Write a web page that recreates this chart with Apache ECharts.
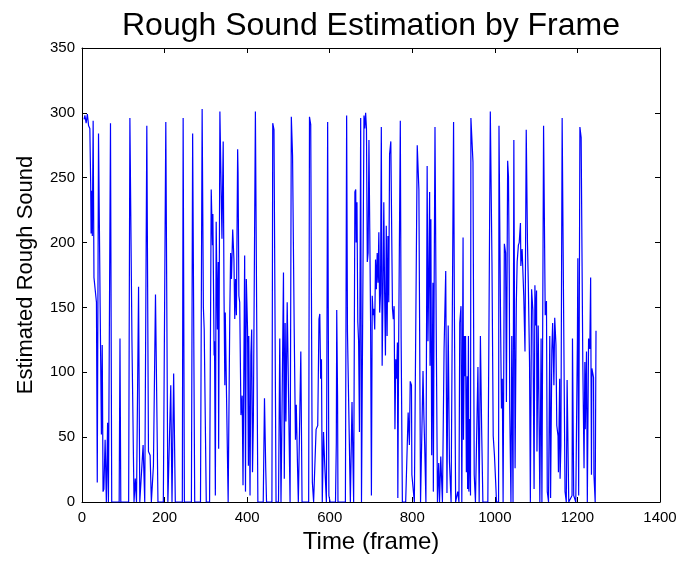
<!DOCTYPE html>
<html>
<head>
<meta charset="utf-8">
<script src="https://cdn.jsdelivr.net/npm/echarts@6/dist/echarts.min.js"></script>
<style>
html,body{margin:0;padding:0;background:#fff;}
#chart{width:681px;height:565px;}
</style>
</head>
<body>
<div id="chart"></div>
<script>
var titleText = 'Rough Sound Estimation by Frame';
var xLabel = 'Time (frame)';
var yLabel = 'Estimated Rough Sound';
var xTicks = [0, 200, 400, 600, 800, 1000, 1200, 1400];
var yTicks = [0, 50, 100, 150, 200, 250, 300, 350];

var frames = [
5,7,10,13,16,19,21,22,24,25,27,29,33,35,37,40,44,47,49,51,53,56,59,62,64,69,72,90,92,94,113,116,121,126,129,132,137,140,148,152,157,161,165,168,173,178,184,197,203,
208,215,218,222,226,243,245,248,265,268,273,287,291,294,296,301,309,313,316,317,320,321,323,325,328,330,331,334,336,339,342,344,346,347,354,358,360,362,365,368,370,372,374,377,378,380,382,385,388,390,393,394,396,398,401,403,404,407,409,411,413,415,
420,426,439,442,445,447,460,462,465,470,476,479,482,484,488,490,492,494,497,501,504,507,510,514,517,519,522,524,530,533,549,551,554,557,558,561,567,571,574,576,578,580,582,585,588,592,595,598,601,614,616,617,619,620,
638,641,643,645,650,654,658,661,663,664,666,668,670,672,675,677,680,683,685,687,689,691,693,695,697,699,701,703,705,707,709,711,713,715,717,719,721,723,725,727,729,731,733,735,737,739,741,743,745,748,752,754,756,758,760,762,764,765,767,771,773,776,784,790,793,795,798,799,802,805,808,812,816,820,823,826,828,830,833,
836,838,840,842,843,845,847,850,851,853,855,858,861,864,866,869,873,877,881,884,887,890,894,900,902,905,910,913,915,918,920,923,924,926,928,929,931,933,934,936,937,939,941,942,947,950,953,957,959,962,965,968,971,983,989,993,996,999,1002,1004,1009,1010,1014,1016,1018,1020,1023,1026,1028,1031,1033,1035,1036,1039,
1041,1044,1046,1049,1052,1054,1057,1059,1062,1063,1066,1070,1073,1076,1079,1081,1084,1086,1089,1092,1095,1097,1099,1101,1102,1105,1109,1112,1114,1118,1122,1125,1127,1130,1133,1135,1138,1140,1143,1145,1148,1150,1153,1154,1157,1158,1160,1163,1166,1170,1173,1175,1179,1187,1188,1191,1194,1196,1200,1201,1203,1206,1209,1213,1216,1218,1219,1222,1224,1227,1230,1232,1234,1235,1239,1240,1243,1245
];
var roughSound = [
295,298,292,299,290,288,246,207,240,205,294,173,173,154,15,284,150,52,121,8,10,48,0,61,0,292,0,0,126,0,0,296,124,0,18,0,166,0,44,0,290,39,36,0,28,160,0,0,293,
0,90,0,99,0,0,296,0,0,284,0,0,303,150,133,0,0,241,198,222,113,124,5,216,133,185,41,301,302,203,278,159,90,146,0,146,192,172,210,187,141,172,144,272,254,159,154,67,82,13,146,190,8,172,133,28,128,5,113,133,23,62,
301,0,0,80,26,0,0,292,287,0,0,126,0,56,177,18,138,62,154,155,0,297,267,133,48,75,28,0,116,0,0,297,291,67,15,0,56,59,141,145,95,110,0,54,28,0,293,5,0,0,46,148,82,0,
0,298,131,131,0,77,0,239,241,200,231,139,124,54,296,0,0,298,288,300,288,185,192,279,210,139,5,159,144,149,133,187,164,192,169,208,146,161,289,105,159,231,161,113,213,128,205,154,268,278,149,141,151,56,110,95,123,3,123,294,126,0,0,69,44,93,90,21,21,0,0,275,241,0,0,101,67,44,0,
259,124,177,239,105,218,36,169,8,169,289,133,0,30,0,35,0,118,178,7,136,31,0,293,146,0,8,0,138,151,0,204,48,128,97,128,23,97,10,128,8,64,5,296,262,21,0,0,104,0,128,56,0,0,301,185,51,36,15,0,0,290,133,72,95,0,199,192,77,263,251,169,72,0,
128,0,279,26,154,185,198,200,215,182,195,159,116,287,200,169,108,0,164,148,10,167,136,163,39,136,0,126,0,290,144,155,8,0,128,3,117,138,90,142,121,59,51,23,95,18,44,296,169,8,0,94,0,5,126,5,5,0,128,188,5,289,281,108,26,108,56,116,0,126,118,173,21,103,96,21,0,132
];

var seriesData = frames.map(function (f, i) { return [f, roughSound[i]]; });

var FONT = '"Liberation Sans", Arial, sans-serif';
var chart = echarts.init(document.getElementById('chart'), null, {renderer: 'canvas'});

function plain(v) { return String(v); }

var axisCommon = {
  type: 'value',
  splitLine: {show: false},
  axisLine: {show: true, onZero: false, lineStyle: {color: '#000', width: 1}},
  axisTick: {show: true, inside: true, length: 5, lineStyle: {color: '#000', width: 1}}
};

chart.setOption({
  animation: false,
  backgroundColor: '#fff',
  title: {
    text: titleText,
    left: 366,
    textAlign: 'center',
    top: 5,
    textStyle: {fontFamily: FONT, fontSize: 32, fontWeight: 'normal', color: '#000'}
  },
  grid: {left: 82, right: 21, top: 48, bottom: 63, containLabel: false},
  xAxis: [
    Object.assign({}, axisCommon, {
      position: 'bottom',
      min: xTicks[0], max: xTicks[xTicks.length - 1], interval: xTicks[1] - xTicks[0],
      name: xLabel, nameLocation: 'middle', nameGap: 28,
      nameTextStyle: {fontFamily: FONT, fontSize: 24, color: '#000'},
      axisLabel: {show: true, margin: 8, fontFamily: FONT, fontSize: 15, color: '#000', formatter: plain}
    }),
    Object.assign({}, axisCommon, {
      position: 'top',
      min: xTicks[0], max: xTicks[xTicks.length - 1], interval: xTicks[1] - xTicks[0],
      axisLabel: {show: false}
    })
  ],
  yAxis: [
    Object.assign({}, axisCommon, {
      position: 'left',
      min: yTicks[0], max: yTicks[yTicks.length - 1], interval: yTicks[1] - yTicks[0],
      name: yLabel, nameLocation: 'middle', nameGap: 45,
      nameTextStyle: {fontFamily: FONT, fontSize: 22, color: '#000'},
      axisLabel: {show: true, margin: 7, fontFamily: FONT, fontSize: 15, color: '#000', formatter: plain}
    }),
    Object.assign({}, axisCommon, {
      position: 'right',
      min: yTicks[0], max: yTicks[yTicks.length - 1], interval: yTicks[1] - yTicks[0],
      axisLabel: {show: false}
    })
  ],
  series: [{
    type: 'line',
    xAxisIndex: 0,
    yAxisIndex: 0,
    data: seriesData,
    showSymbol: false,
    symbol: 'none',
    clip: true,
    lineStyle: {color: '#0000ff', width: 1.2},
    emphasis: {disabled: true}
  }]
});
</script>
</body>
</html>
